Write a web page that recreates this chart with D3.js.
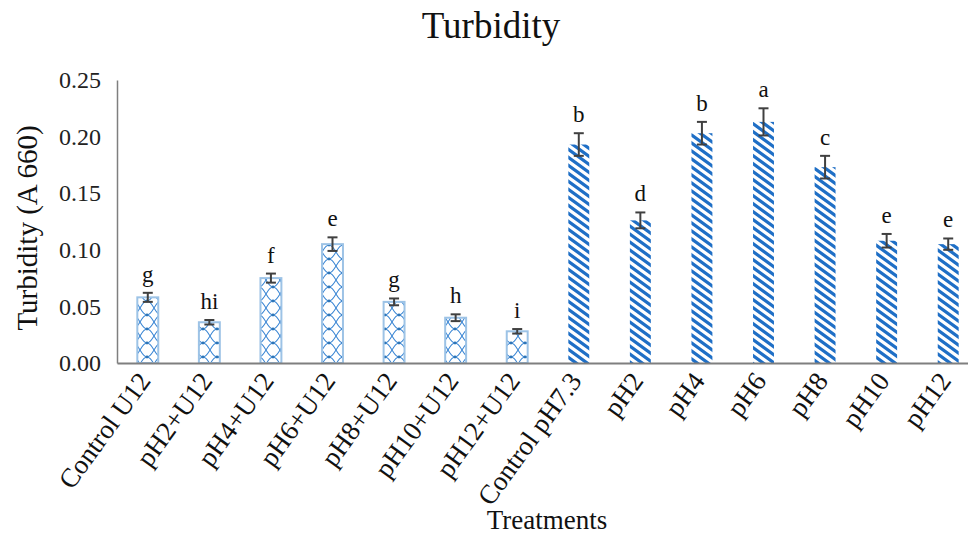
<!DOCTYPE html>
<html>
<head>
<meta charset="utf-8">
<script src="https://cdn.jsdelivr.net/npm/d3@7"></script>
<style>
  html, body { margin: 0; padding: 0; background: #fff; }
  svg { display: block; font-family: "Liberation Serif", "Times New Roman", serif; }
</style>
</head>
<body>
<svg id="chart" width="968" height="535"></svg>
<script>
const categories = ["Control U12","pH2+U12","pH4+U12","pH6+U12","pH8+U12","pH10+U12","pH12+U12",
                    "Control pH7.3","pH2","pH4","pH6","pH8","pH10","pH12"];
const means = [0.058,0.036,0.075,0.105,0.054,0.040,0.028,0.193,0.126,0.203,0.213,0.173,0.108,0.105];
const errors = [0.004,0.002,0.004,0.006,0.003,0.003,0.002,0.010,0.007,0.010,0.012,0.010,0.006,0.005];
const letters = ["g","hi","f","e","g","h","i","b","d","b","a","c","e","e"];
const groups = ["U12","U12","U12","U12","U12","U12","U12","pH","pH","pH","pH","pH","pH","pH"];
const yTicks = [0, 0.05, 0.10, 0.15, 0.20, 0.25];

(function () {
const svg = d3.select("#chart");
const pL = 117, pR = 979, pT = 80, pB = 363;

const x = d3.scaleBand().domain(categories).range([pL, pR]).paddingInner(0.66).paddingOuter(0.33);
const y = d3.scaleLinear().domain([0, 0.25]).range([pB, pT]);

const defs = svg.append("defs");
const lat = defs.append("pattern").attr("id", "lattice")
  .attr("patternUnits", "userSpaceOnUse").attr("width", 14).attr("height", 14);
lat.append("path").attr("d", "M0,0 Q4,7 7,7 Q10,7 14,14 M14,0 Q10,7 7,7 Q4,7 0,14")
  .attr("stroke", "#3a86d4").attr("stroke-width", 1.1).attr("fill", "none");
lat.append("circle").attr("cx", 7).attr("cy", 7).attr("r", 1.4).attr("fill", "#2E75B6");
const st = defs.append("pattern").attr("id", "stripes")
  .attr("patternUnits", "userSpaceOnUse").attr("width", 11).attr("height", 8);
st.append("path").attr("d", "M-11,-8 L22,16 M-11,0 L11,16 M0,-8 L22,8")
  .attr("stroke", "#1f6fc6").attr("stroke-width", 3.2).attr("fill", "none");

svg.append("text").attr("x", 491).attr("y", 38).attr("text-anchor", "middle")
  .attr("font-size", 37).attr("fill", "#111").text("Turbidity");

const yAxis = d3.axisLeft(y).tickValues(yTicks).tickFormat(d3.format(".2f")).tickSize(0).tickPadding(16);
const gy = svg.append("g").attr("transform", `translate(${pL},0)`).call(yAxis);
gy.select(".domain").attr("stroke", "#7f7f7f").attr("stroke-width", 1.5);
gy.selectAll("text").attr("font-size", 24).attr("fill", "#222").attr("font-family", "Liberation Serif, serif");

const data = categories.map((c, i) => ({c, m: means[i], e: errors[i], l: letters[i], g: groups[i]}));
svg.append("g").selectAll("rect").data(data).enter().append("rect")
  .attr("x", d => x(d.c))
  .attr("y", d => y(d.m))
  .attr("width", x.bandwidth())
  .attr("height", d => pB - y(d.m))
  .attr("fill", d => d.g === "U12" ? "url(#lattice)" : "url(#stripes)")
  .attr("stroke", d => d.g === "U12" ? "#9dc3e6" : "none")
  .attr("stroke-width", 2);

const xAxis = d3.axisBottom(x).tickSize(0).tickPadding(0);
const gx = svg.append("g").attr("transform", `translate(0,${pB})`).call(xAxis);
gx.select(".domain").attr("stroke", "#7f7f7f").attr("stroke-width", 2);
gx.selectAll("text")
  .attr("font-size", 27).attr("fill", "#111").attr("font-family", "Liberation Serif, serif")
  .attr("text-anchor", "end").attr("dy", 0)
  .attr("transform", "translate(4,18) rotate(-54)");

const eb = svg.append("g").attr("stroke", "#404040").attr("stroke-width", 2);
data.forEach(d => {
  const cx = x(d.c) + x.bandwidth() / 2;
  eb.append("line").attr("x1", cx).attr("x2", cx).attr("y1", y(d.m + d.e)).attr("y2", y(d.m - d.e));
  eb.append("line").attr("x1", cx - 5).attr("x2", cx + 5).attr("y1", y(d.m + d.e)).attr("y2", y(d.m + d.e));
  eb.append("line").attr("x1", cx - 5).attr("x2", cx + 5).attr("y1", y(d.m - d.e)).attr("y2", y(d.m - d.e));
});

svg.append("g").selectAll("text").data(data).enter().append("text")
  .attr("x", d => x(d.c) + x.bandwidth() / 2)
  .attr("y", d => y(d.m + d.e) - 11)
  .attr("text-anchor", "middle").attr("font-size", 23).attr("fill", "#111")
  .text(d => d.l);

svg.append("text").attr("transform", "translate(37,228) rotate(-90)")
  .attr("text-anchor", "middle").attr("font-size", 29).attr("fill", "#111").text("Turbidity (A 660)");
svg.append("text").attr("x", 547).attr("y", 529).attr("text-anchor", "middle")
  .attr("font-size", 27).attr("fill", "#111").text("Treatments");
})();
</script>
</body>
</html>
